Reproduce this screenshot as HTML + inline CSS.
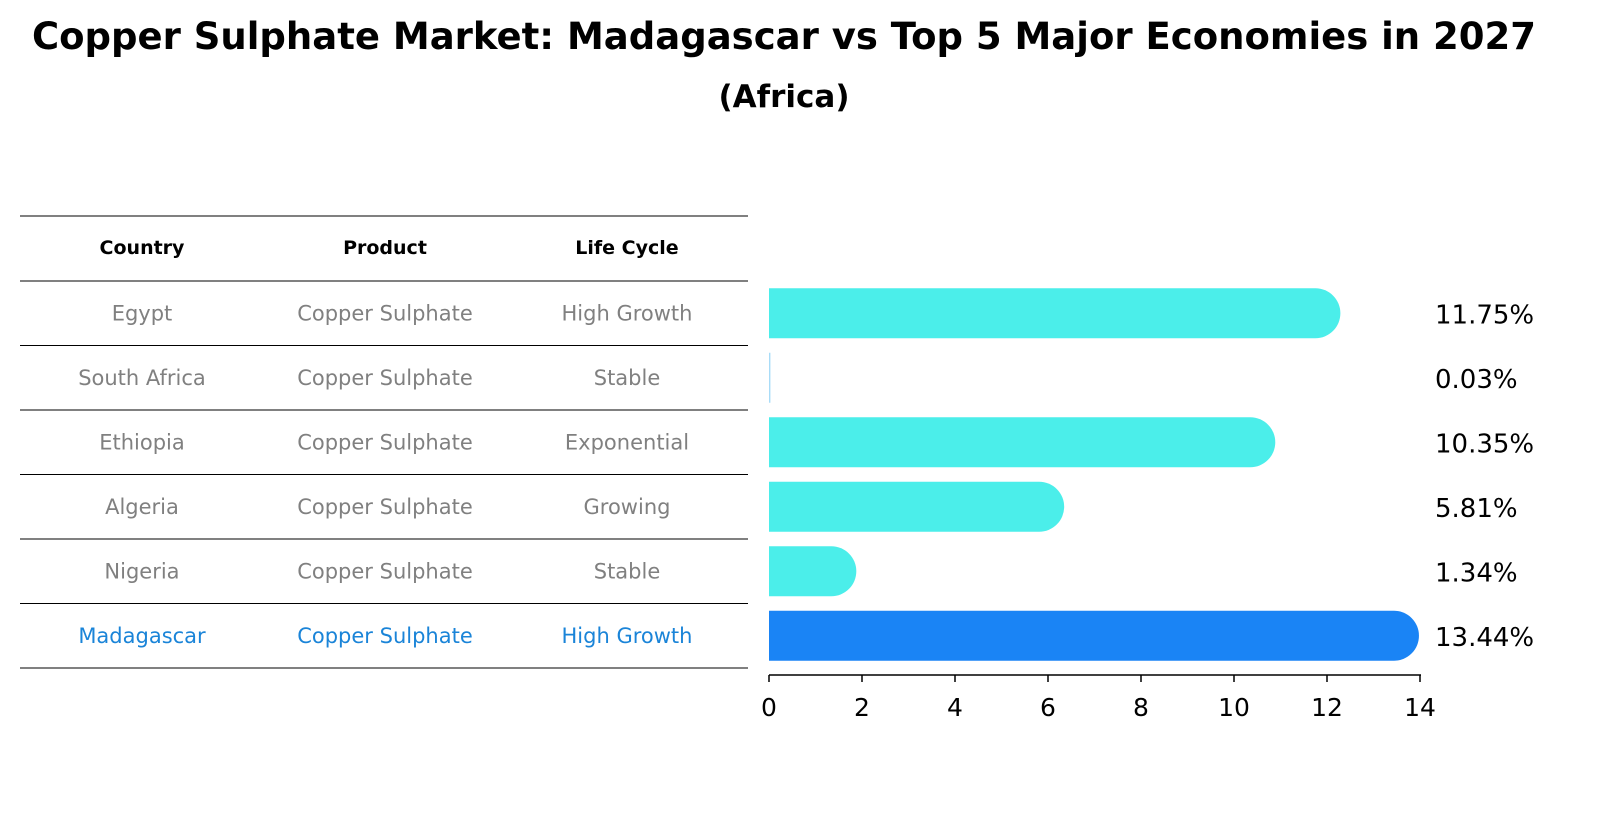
<!DOCTYPE html>
<html><head><meta charset="utf-8"><style>
body{margin:0;background:#fff;font-family:"Liberation Sans","DejaVu Sans",sans-serif;}
</style></head><body>
<svg id="c" width="1618" height="823" xmlns="http://www.w3.org/2000/svg" font-family="DejaVu Sans, Liberation Sans, sans-serif">
<text x="784" y="49" text-anchor="middle" font-size="37" font-weight="bold">Copper Sulphate Market: Madagascar vs Top 5 Major Economies in 2027</text>
<text x="784" y="107" text-anchor="middle" font-size="31" font-weight="bold">(Africa)</text>
<g id="table"></g>
<g id="bars"></g>
</svg>
<script>
const countries=["Egypt","South Africa","Ethiopia","Algeria","Nigeria","Madagascar"];
const products=["Copper Sulphate","Copper Sulphate","Copper Sulphate","Copper Sulphate","Copper Sulphate","Copper Sulphate"];
const lifeCycles=["High Growth","Stable","Exponential","Growing","Stable","High Growth"];
const values=[11.75,0.03,10.35,5.81,1.34,13.44];
const valueLabels=["11.75%","0.03%","10.35%","5.81%","1.34%","13.44%"];
const ticks=[0,2,4,6,8,10,12,14];
const NS="http://www.w3.org/2000/svg";
function mk(tag,attrs,parent,text){const e=document.createElementNS(NS,tag);for(const k in attrs)e.setAttribute(k,attrs[k]);if(text!==undefined)e.textContent=text;parent.appendChild(e);return e;}
const x0=769,x1=1420,xMax=14;
const xs=v=>x0+(x1-x0)*v/xMax;
const rowTop=281,rowH=64.5;
const yc=i=>rowTop+rowH*i+rowH/2;
const tbl=document.getElementById('table');
const colX=[142,385,627];
const hd=["Country","Product","Life Cycle"];
hd.forEach((h,j)=>{const t=mk('text',{x:colX[j],y:254,'text-anchor':'middle','font-size':19,'font-weight':'bold'},tbl,h);

});
for(let i=0;i<=countries.length+1;i++){
  const y=i===0?216:rowTop+rowH*(i-1);
  const l=mk('line',{x1:20,x2:748,y1:y,y2:y,stroke:'#000','stroke-width':1},tbl);
  
  
}
countries.forEach((c,i)=>{
  const col=i===countries.length-1?'#1a84d8':'#808080';
  [c,products[i],lifeCycles[i]].forEach((v,j)=>{
    const t=mk('text',{x:colX[j],y:yc(i)+7,'text-anchor':'middle','font-size':21,fill:col},tbl,v);
    
    
  });
});
const g=document.getElementById('bars');
const bh=50,r=25;
values.forEach((v,i)=>{
  const last=i===values.length-1;
  const col=last?'#1a84f5':'#4beeea';
  const xe=xs(v),yt=yc(i)-bh/2;
  let p;
  if(v<0.2){p=mk('rect',{x:x0,y:yt,width:Math.max(1,xe-x0),height:bh,fill:'#a8dcf8'},g);}
  else p=mk('path',{d:`M${x0},${yt}H${xe}A${r},${r} 0 0 1 ${xe},${yt+bh}H${x0}Z`,fill:col},g);
  
  
  const t=mk('text',{x:1435,y:yc(i)+10,'font-size':26},g,valueLabels[i]);
  
  
});
const ax=mk('line',{x1:x0,x2:x1+1,y1:675,y2:675,stroke:'#000','stroke-width':1.5},g);


ticks.forEach(tv=>{
  const tl=mk('line',{x1:xs(tv),x2:xs(tv),y1:675,y2:682,stroke:'#000','stroke-width':1.5},g);
  
  
  const t=mk('text',{x:xs(tv),y:716,'text-anchor':'middle','font-size':25},g,String(tv));
  
  
});
</script>
</body></html>
